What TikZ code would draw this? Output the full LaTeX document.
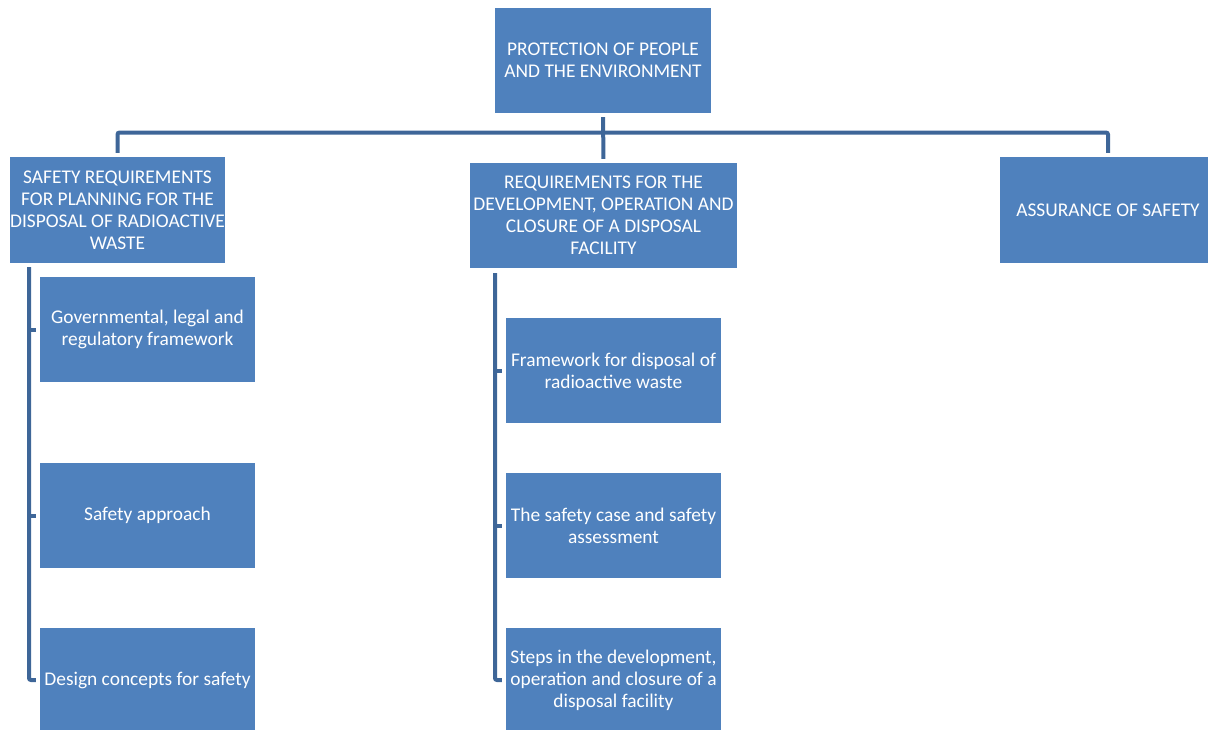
\documentclass[tikz,border=0pt]{standalone}
\usepackage{fontspec}
\setmainfont{Carlito}
\usetikzlibrary{calc}
\definecolor{boxblue}{HTML}{4F81BD}
\definecolor{linkblue}{RGB}{62,102,152}
\begin{document}
\begin{tikzpicture}[x=1pt,y=-1pt,
  box/.style={fill=boxblue, text=white, draw=none, inner sep=0pt, align=center,
    font=\fontsize{19.4}{22}\selectfont, minimum height=105pt},
  link/.style={draw=linkblue, line width=4pt, rounded corners=2pt,
    shorten <=4pt, shorten >=4pt},
  stub/.style={draw=linkblue, line width=4pt, shorten >=4pt}]
\path[use as bounding box, clip] (0,0) rectangle (1208,729);

% top level
\node[box, minimum width=216pt] (top) at (603,60.5) {PROTECTION OF PEOPLE\\AND THE ENVIRONMENT};

% second level
\node[box, minimum width=215pt, minimum height=106pt] (c1) at (117.5,210)
  {SAFETY REQUIREMENTS\\FOR PLANNING FOR THE\\DISPOSAL OF RADIOACTIVE\\WASTE};
\node[box, minimum width=267pt] (c2) at (603.5,215.5)
  {REQUIREMENTS FOR THE\\DEVELOPMENT, OPERATION AND\\CLOSURE OF A DISPOSAL\\FACILITY};
\node[box, minimum width=216pt, minimum height=106pt] (c3) at (1108,210) {ASSURANCE OF SAFETY};

% third level, left column
\node[box, minimum width=215pt] (b1) at (147.5,329.5) {Governmental, legal and\\regulatory framework};
\node[box, minimum width=215pt] (b2) at (147.5,515.5) {Safety approach};
\node[box, minimum width=215pt] (b3) at (147.5,680) {Design concepts for safety};

% third level, middle column
\node[box, minimum width=215pt] (m1) at (613.5,370.5) {Framework for disposal of\\radioactive waste};
\node[box, minimum width=215pt] (m2) at (613.5,525.5) {The safety case and safety\\assessment};
\node[box, minimum width=215pt] (m3) at (613.5,680) {Steps in the development,\\operation and closure of a\\disposal facility};

% connectors of the upper tree
\coordinate (bar) at (603,132.5);
\draw[link] (top.south) -- (c2.north);
\draw[link] (c1.north) -- (c1.north |- bar) -- (c3.north |- bar) -- (c3.north);

% left column connectors
\coordinate (lt) at (29,267);
\draw[link, shorten <=0pt] (lt) |- (b3.west);
\draw[stub] (lt |- b1.west) -- (b1.west);
\draw[stub] (lt |- b2.west) -- (b2.west);

% middle column connectors
\coordinate (mt) at (495,273);
\draw[link, shorten <=0pt] (mt) |- (m3.west);
\draw[stub] (mt |- m1.west) -- (m1.west);
\draw[stub] (mt |- m2.west) -- (m2.west);
\end{tikzpicture}
\end{document}
